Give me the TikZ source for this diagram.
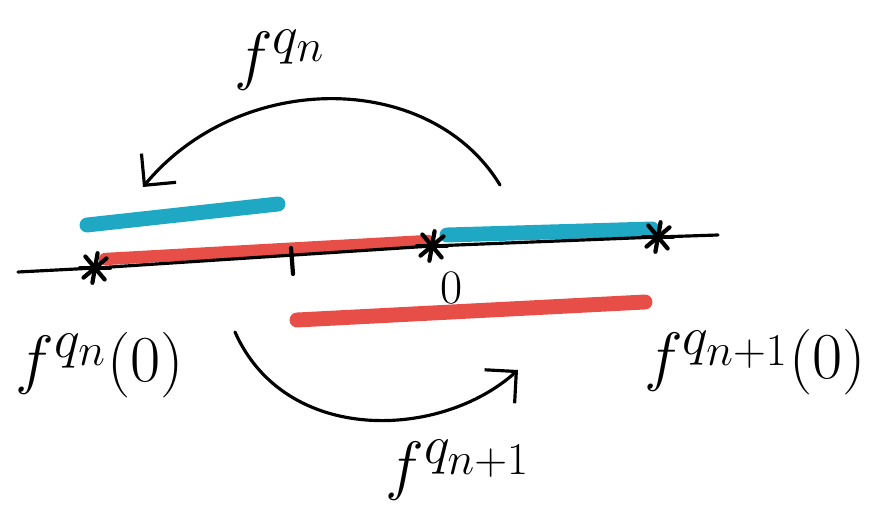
\documentclass[tikz,border=0pt]{standalone}
\usepackage{xcolor}
\usepackage{tikz}
\usetikzlibrary{arrows.meta, positioning, calc}

\definecolor{markred}{RGB}{232,78,72}
\definecolor{markcyan}{RGB}{30,168,196}

\begin{document}
\begin{tikzpicture}[x=0.02cm, y=-0.02cm, >={Straight Barb[length=0.45cm, width=0.9cm]}]
    \useasboundingbox (0,0) rectangle (883,530);
    \tikzset{
        pen/.style={line width=1.8pt, line cap=round},
        redbar/.style={line width=7pt, line cap=round, markred},
        cyanbar/.style={line width=8.5pt, line cap=round, markcyan},
        lbl/.style={font=\Huge, scale=1.5, inner sep=0pt}
    }

    % coloured pieces
    \draw[redbar] (105,259) -- (428,241);
    \draw[cyanbar] (447,235) -- (652,229);
    \draw[cyanbar] (87,225) -- (278,204);
    \draw[redbar, line width=8.5pt] (297,320) -- (645,302);

    % the line with its marked points
    \coordinate (left) at (18,272);
    \coordinate (right) at (718,235);
    \coordinate (pn) at (95,268);
    \coordinate (zero) at (432,246);
    \coordinate (pn1) at (658,237);
    \draw[pen] (left) -- (pn) -- (zero) -- (pn1) -- (right);
    \foreach \p in {pn, zero, pn1}
        \foreach \a in {0, 50, 100, 140}
            \draw[pen, line width=2.4pt] ($(\p)+(\a:15)$) -- ($(\p)+(\a+180:15)$);
    \draw[pen, line width=2.4pt] (291,248) -- (293,274);

    \node[font=\Huge, scale=1.1] (zerolbl) at (452,288) {$0$};
    \node[lbl] (pnlbl) at (100,365) {$f^{q_n}(0)$};
    \node[lbl] (pn1lbl) at (755,362) {$f^{q_{n+1}}(0)$};

    % the two maps
    \coordinate (topstart) at (500,185);
    \coordinate (topend) at (143,187);
    \draw[pen, ->] (topstart) .. controls (430,70) and (240,70) .. (topend);
    \node[lbl] (qn) at (280,60) {$f^{q_n}$};

    \coordinate (botstart) at (235,332);
    \coordinate (botend) at (518,370);
    \draw[pen, ->] (botstart) .. controls (285,445) and (440,440) .. (botend);
    \node[lbl] (qn1) at (458,470) {$f^{q_{n+1}}$};
\end{tikzpicture}
\end{document}
